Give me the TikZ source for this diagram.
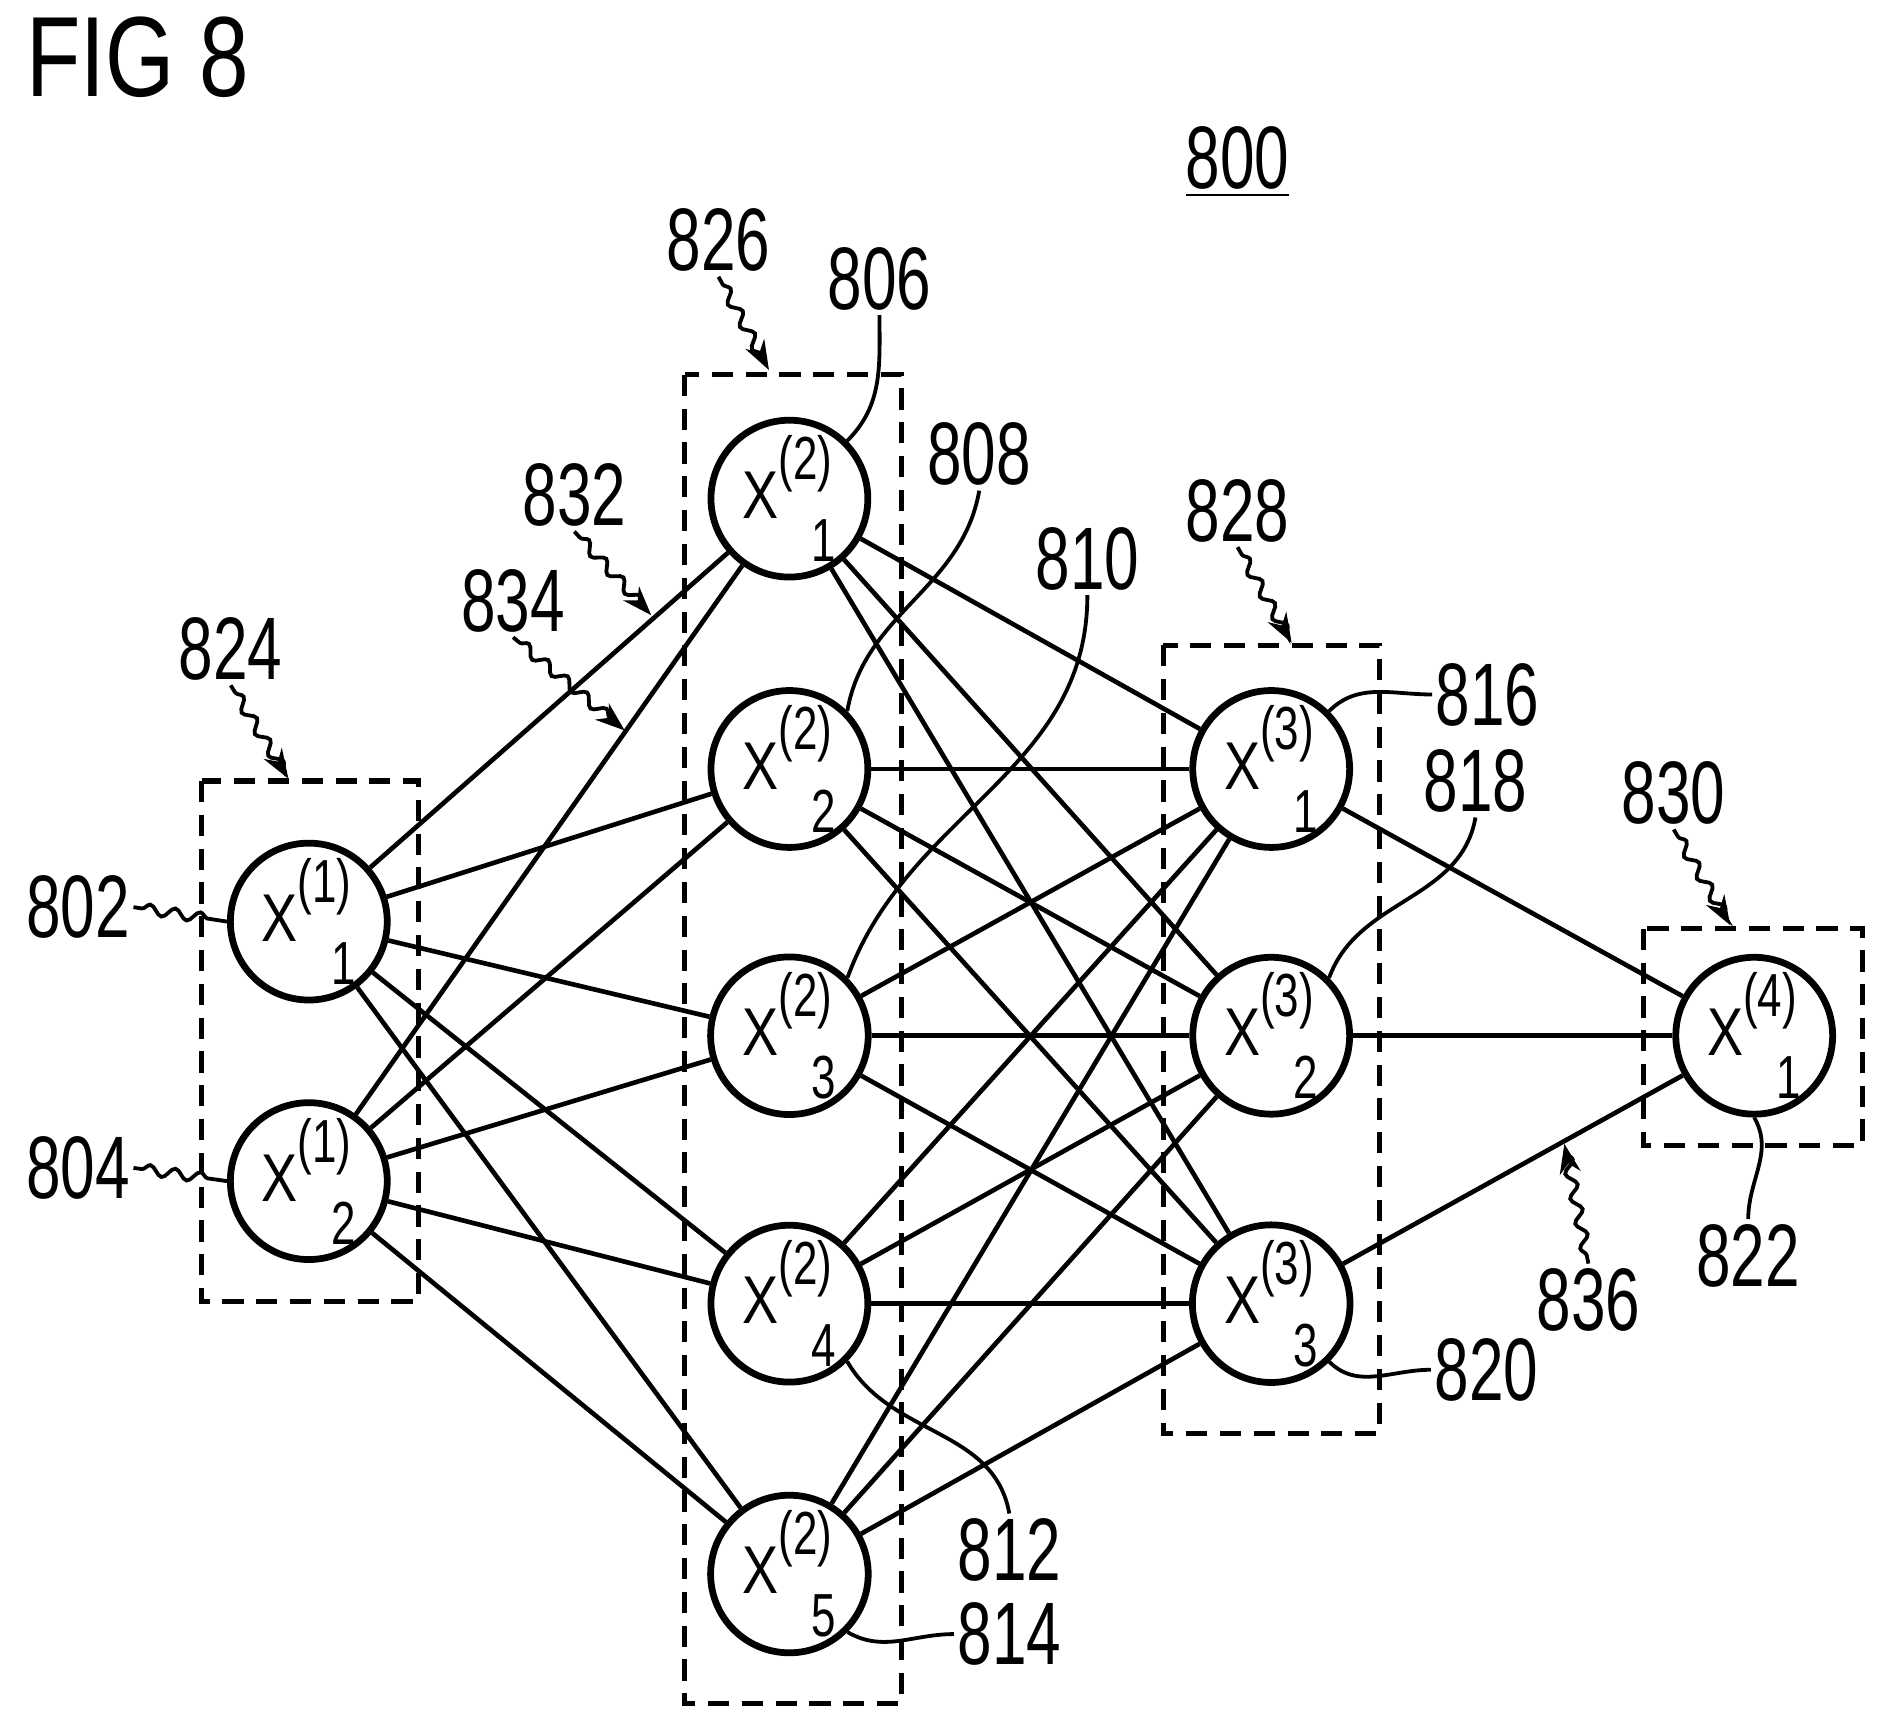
\documentclass[tikz,border=0pt]{standalone}
\usepackage{fontspec}
\setmainfont{Liberation Sans}
\usetikzlibrary{arrows.meta,decorations.pathmorphing}
\tikzset{
  neuron/.style={circle,draw,line width=1.6pt,minimum size=1.24cm,inner sep=0pt,font=\fontsize{16}{18}\selectfont},
  group/.style={draw,dashed,line width=1.2pt,dash pattern=on 5pt off 3pt},
  link/.style={line width=1.1pt},
  ref/.style={font=\fontsize{21}{22}\selectfont,inner sep=1pt,xscale=0.7},
  wavy/.style={line width=0.9pt,decorate,decoration={snake,amplitude=1.2pt,segment length=6pt,pre length=2pt,post length=2pt}},
  pointer/.style={wavy,-{Stealth[length=7pt,width=5pt]}}
}
\newcommand{\neuronlabel}[2]{\scalebox{0.8}[1]{X}\raisebox{1.1ex}{\scalebox{0.65}[0.9]{(#1)}}\kern-0.3em\raisebox{-1.2ex}{\scalebox{0.65}[0.9]{#2}}}
\begin{document}
\begin{tikzpicture}[x=0.01cm,y=-0.01cm]
\useasboundingbox (0,0) rectangle (1568,1436);

\node[font=\fontsize{27}{30}\selectfont,anchor=west,xscale=0.78] (fig) at (12,48) {FIG 8};
\node[ref] (lbl800) at (1030,135) {\underline{800}};

% layers
\node[neuron] (n11) at (257,767) {\neuronlabel{1}{1}};
\node[neuron] (n12) at (257,983) {\neuronlabel{1}{2}};
\foreach \i/\y in {1/415,2/640,3/862,4/1085,5/1310}
  \node[neuron] (n2\i) at (657,\y) {\neuronlabel{2}{\i}};
\foreach \i/\y in {1/640,2/862,3/1085}
  \node[neuron] (n3\i) at (1058,\y) {\neuronlabel{3}{\i}};
\node[neuron] (n41) at (1460,862) {\neuronlabel{4}{1}};

% connections
\foreach \a in {1,2}
  \foreach \b in {1,...,5}
    \draw[link] (n1\a) -- (n2\b);
\foreach \a in {1,...,5}
  \foreach \b in {1,2,3}
    \draw[link] (n2\a) -- (n3\b);
\foreach \a in {1,2,3}
  \draw[link] (n3\a) -- (n41);

% groups
\draw[group] (168,650) rectangle (348,1083);
\draw[group] (570,312) rectangle (750,1418);
\draw[group] (968,537) rectangle (1148,1193);
\draw[group] (1368,773) rectangle (1550,953);

% reference labels
\node[ref] (lbl802) at (65,755) {802};
\node[ref] (lbl804) at (65,972) {804};
\node[ref] (lbl824) at (192,540) {824};
\node[ref] (lbl826) at (598,200) {826};
\node[ref] (lbl806) at (732,232) {806};
\node[ref] (lbl832) at (478,412) {832};
\node[ref] (lbl834) at (427,500) {834};
\node[ref] (lbl808) at (815,378) {808};
\node[ref] (lbl810) at (905,465) {810};
\node[ref] (lbl828) at (1030,425) {828};
\node[ref] (lbl816) at (1238,578) {816};
\node[ref] (lbl818) at (1228,650) {818};
\node[ref] (lbl830) at (1393,660) {830};
\node[ref] (lbl822) at (1455,1045) {822};
\node[ref] (lbl836) at (1322,1082) {836};
\node[ref] (lbl820) at (1237,1140) {820};
\node[ref] (lbl812) at (840,1290) {812};
\node[ref] (lbl814) at (840,1360) {814};

\coordinate (tip824) at (240,648);
\coordinate (tip826) at (640,308);
\coordinate (tip828) at (1075,535);
\coordinate (tip830) at (1440,770);
\coordinate (tip832) at (542,512);
\coordinate (tip834) at (520,608);
\coordinate (tip836) at (1302,952);

\draw[pointer] (lbl824.south) -- (tip824);
\draw[pointer] (lbl826.south) -- (tip826);
\draw[pointer] (lbl828.south) -- (tip828);
\draw[pointer] (lbl830.south) -- (tip830);
\draw[pointer] (lbl832.south) -- (tip832);
\draw[pointer] (lbl834.south) -- (tip834);
\draw[pointer] (lbl836.north) -- (tip836);

\draw[wavy] (lbl802.east) -- (n11.west);
\draw[wavy] (lbl804.east) -- (n12.west);
\draw[line width=0.9pt] (lbl806.south) to[out=-90,in=45] (n21.north east);
\draw[line width=0.9pt] (lbl808.south) to[out=-100,in=80] (n22.north east);
\draw[line width=0.9pt] (lbl810.south) to[out=-90,in=70] (n23.north east);
\draw[line width=0.9pt] (lbl816.west) to[out=180,in=45] (n31.north east);
\draw[line width=0.9pt] (lbl818.south) to[out=-100,in=70] (n32.north east);
\draw[line width=0.9pt] (lbl820.west) to[out=180,in=-45] (n33.south east);
\draw[line width=0.9pt] (lbl822.north) to[out=90,in=-60] (n41.south);
\draw[line width=0.9pt] (lbl812.north) to[out=100,in=-60] (n24.south east);
\draw[line width=0.9pt] (lbl814.west) to[out=180,in=-30] (n25.south east);
\end{tikzpicture}
\end{document}
